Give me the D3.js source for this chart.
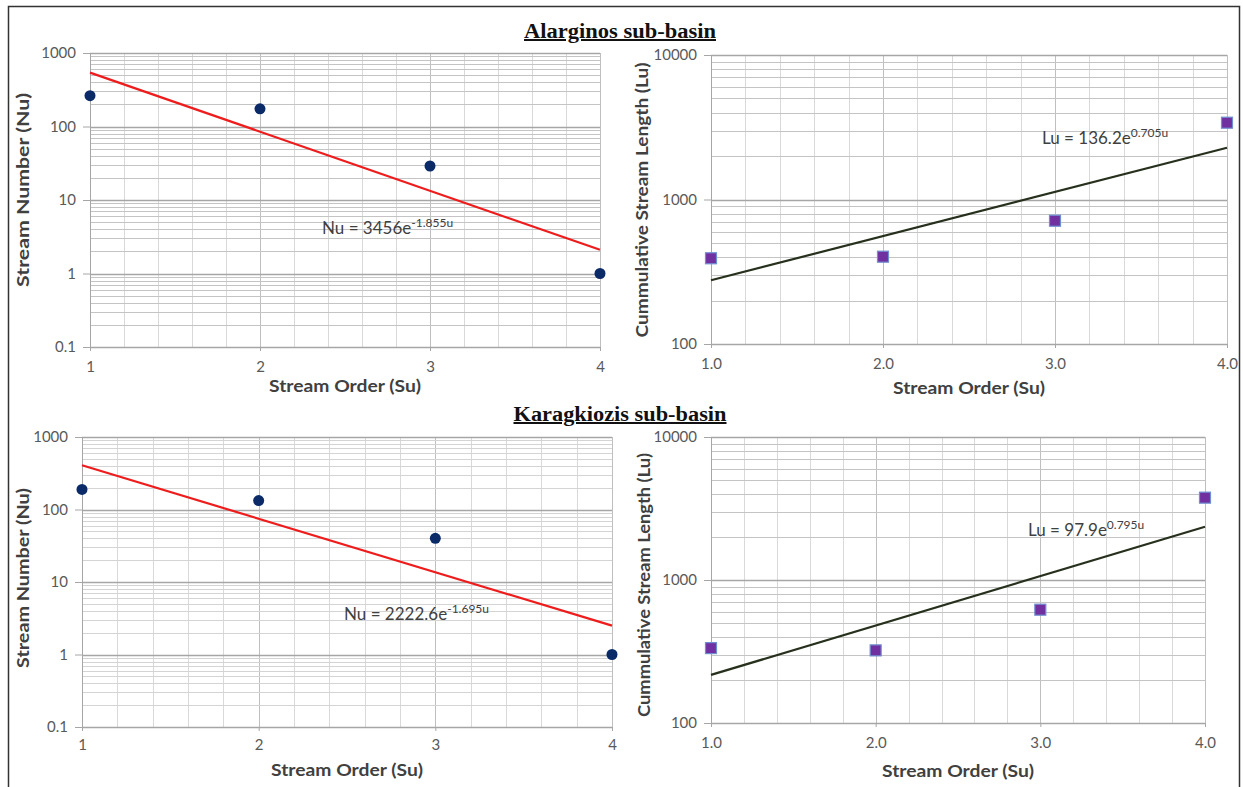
<!DOCTYPE html>
<html>
<head>
<meta charset="utf-8">
<script src="https://cdn.jsdelivr.net/npm/d3@7"></script>
<style>
  html, body { margin: 0; padding: 0; background: #fff; }
  svg { display: block; }
</style>
</head>
<body>
<svg id="chart" width="1243" height="787"></svg>
<script>
// ---------- data ----------
const orders = [1, 2, 3, 4];
const orderTicksA = ["1", "2", "3", "4"];
const orderTicksB = ["1.0", "2.0", "3.0", "4.0"];
const nuTicks = [0.1, 1, 10, 100, 1000];
const luTicks = [100, 1000, 10000];

// Alarginos sub-basin
const nuAlarginos = [263, 174, 29, 1];
const luAlarginos = [392, 402, 713, 3400];
const nuFitAlarginos = [541, 2.1];     // trend line at order 1 and 4
const luFitAlarginos = [276, 2283];
// Karagkiozis sub-basin
const nuKaragkiozis = [189, 133, 40, 1];
const luKaragkiozis = [334, 322, 620, 3765];
const nuFitKaragkiozis = [408, 2.5];
const luFitKaragkiozis = [217, 2355];

const titles = ["Alarginos sub-basin", "Karagkiozis sub-basin"];
const eqText = [
  ["Nu = 3456e", "-1.855u"],
  ["Lu = 136.2e", "0.705u"],
  ["Nu = 2222.6e", "-1.695u"],
  ["Lu = 97.9e", "0.795u"]
];

// ---------- drawing ----------
const svg = d3.select("#chart");
const font = "Lato, 'Open Sans', 'Liberation Sans', sans-serif";

// outer frame
svg.append("rect").attr("x", 8.5).attr("y", 6.5).attr("width", 1231).attr("height", 800)
  .attr("fill", "none").attr("stroke", "#333").attr("stroke-width", 1.5);

// titles
[[620, 38, titles[0], 192], [620, 421, titles[1], 213]].forEach(([x, y, t, w]) => {
  svg.append("text").attr("x", x).attr("y", y).attr("text-anchor", "middle")
    .attr("font-family", "'Liberation Serif', 'Times New Roman', serif")
    .attr("font-weight", "bold").attr("font-size", 20)
    .attr("textLength", w).attr("lengthAdjust", "spacingAndGlyphs")
    .attr("text-decoration", "underline").attr("fill", "#111").text(t);
});

function panel(cfg) {
  const x = d3.scaleLinear().domain([1, 4]).range([cfg.x0, cfg.x1]);
  const y = d3.scaleLog().domain(cfg.ydom).range([cfg.yb, cfg.yt]);
  const g = svg.append("g");

  // minor vertical grid (0.2 steps)
  const xs = d3.range(1, 4.0001, 0.2);
  g.selectAll(".vg").data(xs).join("line")
    .attr("x1", d => Math.round(x(d)) + 0.5).attr("x2", d => Math.round(x(d)) + 0.5)
    .attr("y1", cfg.yt).attr("y2", cfg.yb)
    .attr("stroke", d => Math.abs(d - Math.round(d)) < 1e-6 ? "#bfbfbf" : "#d9d9d9")
    .attr("stroke-width", 1);

  // log horizontal grid
  const ys = [];
  for (let e = Math.log10(cfg.ydom[0]); e < Math.log10(cfg.ydom[1]) - 0.01; e++) {
    for (let m = 1; m <= 9; m++) ys.push({ v: m * Math.pow(10, e), major: m === 1 });
  }
  ys.push({ v: cfg.ydom[1], major: true });
  g.selectAll(".hg").data(ys).join("line")
    .attr("x1", cfg.x0).attr("x2", cfg.x1)
    .attr("y1", d => Math.round(y(d.v)) + 0.5).attr("y2", d => Math.round(y(d.v)) + 0.5)
    .attr("stroke", d => d.major ? "#a6a6a6" : (cfg.lightGrid ? "#d4d4d4" : "#c4c4c4"))
    .attr("stroke-width", d => d.major ? 1.3 : 1);

  // axes
  const xAxis = d3.axisBottom(x).tickValues(orders).tickFormat((d, i) => cfg.xTicks[i])
    .tickSize(4).tickPadding(cfg.xPad);
  const gx = g.append("g").attr("transform", `translate(0,${cfg.yb})`).call(xAxis);
  const yAxis = d3.axisLeft(y).tickValues(cfg.yTicks).tickFormat(d => String(d))
    .tickSize(7).tickPadding(7);
  const gy = g.append("g").attr("transform", `translate(${cfg.x0},0)`).call(yAxis);
  [gx, gy].forEach(a => {
    a.select(".domain").attr("stroke", "#a6a6a6");
    a.selectAll(".tick line").attr("stroke", "#a6a6a6");
    a.selectAll("text").attr("font-family", font).attr("font-size", 15).attr("fill", "#595959");
  });

  // axis titles
  g.append("text").attr("x", (cfg.x0 + cfg.x1) / 2).attr("y", cfg.xTitleY)
    .attr("text-anchor", "middle").attr("font-family", font).attr("font-weight", "bold")
    .attr("font-size", 17).attr("fill", "#404040")
    .attr("textLength", 152).attr("lengthAdjust", "spacingAndGlyphs")
    .text("Stream Order (Su)");
  g.append("text").attr("transform", `translate(${cfg.yTitleX},${cfg.yTitleCY}) rotate(-90)`)
    .attr("text-anchor", "middle").attr("dominant-baseline", "middle")
    .attr("font-family", font).attr("font-weight", "bold")
    .attr("font-size", 17).attr("fill", "#404040")
    .attr("textLength", cfg.yTitleLen).attr("lengthAdjust", "spacingAndGlyphs")
    .text(cfg.yTitle);

  // trend line
  g.append("line")
    .attr("x1", x(1)).attr("y1", y(cfg.fit[0]))
    .attr("x2", x(4)).attr("y2", y(cfg.fit[1]))
    .attr("stroke", cfg.lineColor).attr("stroke-width", 2.2);

  // points
  if (cfg.marker === "circle") {
    g.selectAll(".pt").data(cfg.values).join("circle")
      .attr("cx", (d, i) => x(orders[i])).attr("cy", d => y(d)).attr("r", 5.5)
      .attr("fill", "#0a2a68");
  } else {
    g.selectAll(".pt").data(cfg.values).join("rect")
      .attr("x", (d, i) => x(orders[i]) - 5.5).attr("y", d => y(d) - 5.5)
      .attr("width", 11).attr("height", 11)
      .attr("fill", "#7030a0").attr("stroke", "#6f8fd0").attr("stroke-width", 1.2);
  }

  // equation
  const t = g.append("text").attr("x", cfg.eqX).attr("y", cfg.eqY)
    .attr("font-family", font).attr("font-size", 17).attr("fill", "#404040");
  t.append("tspan").text(cfg.eq[0]);
  t.append("tspan").attr("dy", -7).attr("font-size", 12).text(cfg.eq[1]);
}

panel({ x0: 90, x1: 600, yt: 53, yb: 347, ydom: [0.1, 1000], yTicks: nuTicks, xTicks: orderTicksA,
  values: nuAlarginos, fit: nuFitAlarginos, marker: "circle", lineColor: "#ee1c1c", xPad: 10,
  yTitle: "Stream Number (Nu)", yTitleX: 25, yTitleCY: 190, yTitleLen: 194, xTitleY: 392,
  eq: eqText[0], eqX: 322, eqY: 234 });

panel({ x0: 711, x1: 1227, yt: 55, yb: 344, ydom: [100, 10000], yTicks: luTicks, xTicks: orderTicksB,
  values: luAlarginos, fit: luFitAlarginos, marker: "square", lineColor: "#26301c", xPad: 10,
  yTitle: "Cummulative  Stream Length (Lu)", yTitleX: 644, yTitleCY: 200, yTitleLen: 275, xTitleY: 394,
  eq: eqText[1], eqX: 1042, eqY: 144 });

panel({ x0: 82, x1: 612, yt: 437, yb: 727, ydom: [0.1, 1000], yTicks: nuTicks, xTicks: orderTicksA,
  values: nuKaragkiozis, fit: nuFitKaragkiozis, marker: "circle", lineColor: "#ee1c1c", lightGrid: true, xPad: 8,
  yTitle: "Stream Number (Nu)", yTitleX: 25, yTitleCY: 578, yTitleLen: 180, xTitleY: 776,
  eq: eqText[2], eqX: 344, eqY: 620 });

panel({ x0: 711, x1: 1205, yt: 437, yb: 723, ydom: [100, 10000], yTicks: luTicks, xTicks: orderTicksB,
  values: luKaragkiozis, fit: luFitKaragkiozis, marker: "square", lineColor: "#26301c", xPad: 10,
  yTitle: "Cummulative  Stream Length (Lu)", yTitleX: 646, yTitleCY: 585, yTitleLen: 264, xTitleY: 777,
  eq: eqText[3], eqX: 1028, eqY: 536 });
</script>
</body>
</html>
